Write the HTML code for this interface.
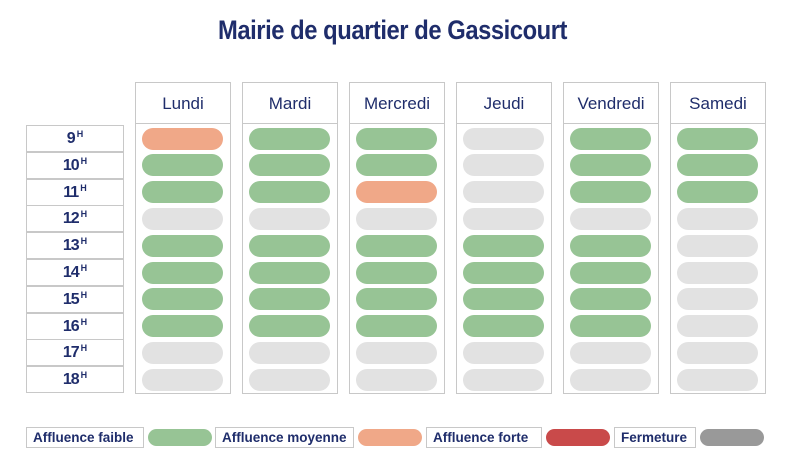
<!DOCTYPE html><html><head><style>
body{margin:0;width:785px;height:467px;background:#fff;position:relative;font-family:"Liberation Sans",sans-serif;color:#1f2d6b;overflow:hidden}
div{position:absolute;box-sizing:border-box}
.t{left:0;width:785px;top:15px;text-align:center;font-size:27px;font-weight:bold;letter-spacing:-0.5px;transform:scaleX(0.88)}
.col{border:1px solid #c8c8c8;top:82px;height:312px;width:96px}
.hd{border:1px solid #c8c8c8;top:82px;height:42px;width:96px;text-align:center;line-height:42px;font-size:17px}
.hr{left:26px;width:98px;height:27px;border:1px solid #c8c8c8;text-align:center;font-size:16px;font-weight:bold;line-height:25px;letter-spacing:-1px}
.hr span{font-size:9px;position:relative;top:-6px;margin-left:2px;letter-spacing:0}
.p{width:81px;height:22px;border-radius:11px}
.G{background:#97c495}.O{background:#f0a888}.g{background:#e2e2e2}
.lb{border:1px solid #c8c8c8;top:427px;height:21px;font-size:13.5px;font-weight:bold;line-height:20px;padding-left:6px}
.lp{top:429px;height:17px;border-radius:9px;width:64px}
</style></head><body>
<div class="t">Mairie de quartier de Gassicourt</div>
<div id="g"></div>
<script>
var days=["Lundi","Mardi","Mercredi","Jeudi","Vendredi","Samedi"];
var data=["OGGgGGGGgg","GGGgGGGGgg","GGOgGGGGgg","ggggGGGGgg","GGGgGGGGgg","GGGggggggg"];
var h="";
for(var i=0;i<10;i++){h+='<div class="hr" style="top:'+(125+i*26.8)+'px">'+(9+i)+'<span>H</span></div>';}
for(var d=0;d<6;d++){var x=135+d*107;
h+='<div class="col" style="left:'+x+'px"></div><div class="hd" style="left:'+x+'px">'+days[d]+'</div>';
for(var i=0;i<10;i++){h+='<div class="p '+data[d][i]+'" style="left:'+(x+7)+'px;top:'+(125+i*26.8+2.5)+'px"></div>';}}
document.getElementById("g").outerHTML=h;
</script>
<div class="lb" style="left:26px;width:118px">Affluence faible</div><div class="lp G" style="left:148px"></div>
<div class="lb" style="left:215px;width:139px">Affluence moyenne</div><div class="lp O" style="left:358px"></div>
<div class="lb" style="left:426px;width:116px">Affluence forte</div><div class="lp" style="left:546px;background:#c94a4a"></div>
<div class="lb" style="left:614px;width:82px">Fermeture</div><div class="lp" style="left:700px;background:#999"></div>
</body></html>
